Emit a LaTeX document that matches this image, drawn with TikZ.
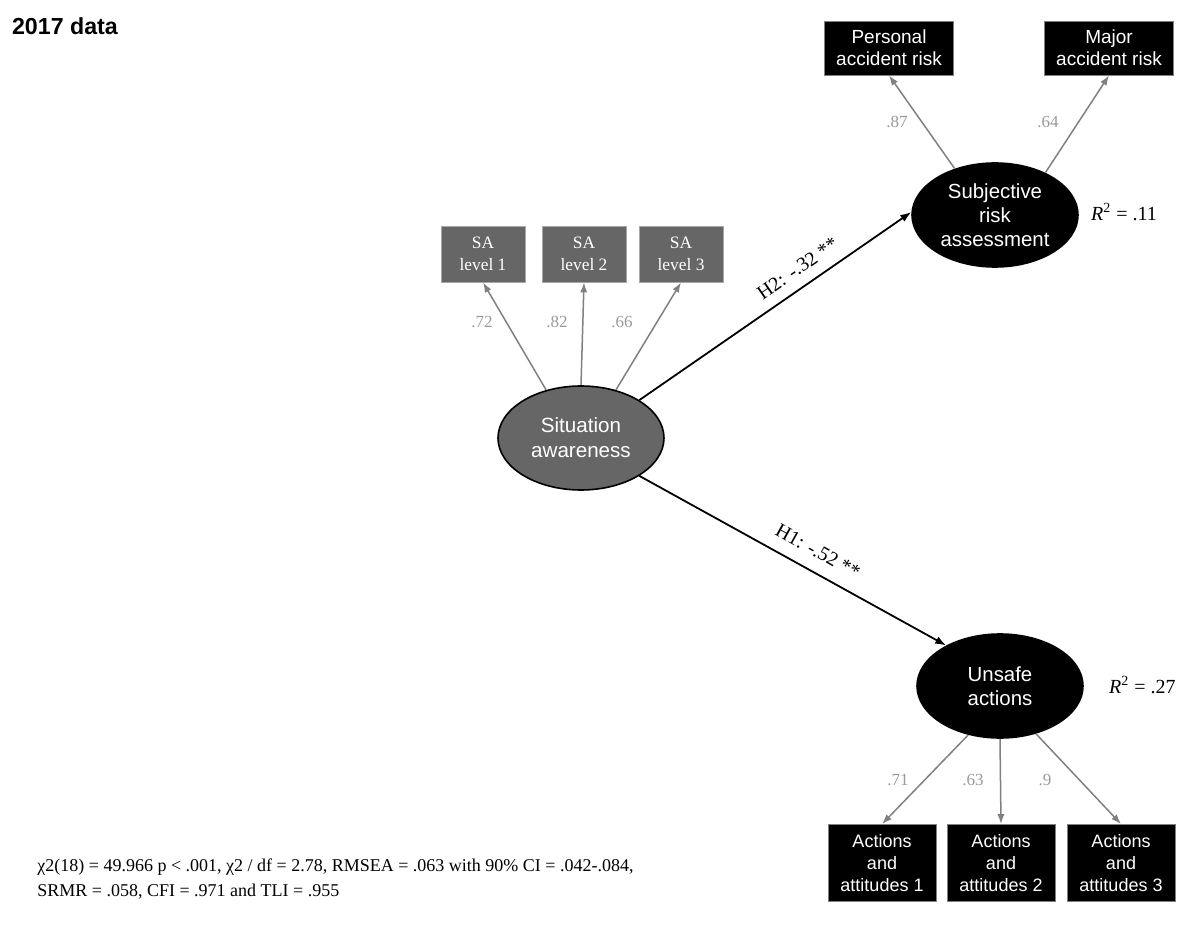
\documentclass[tikz,border=0pt]{standalone}
\usepackage{fontspec}
\setmainfont{Liberation Serif}
\setsansfont{Liberation Sans}
\usetikzlibrary{arrows.meta,shapes.geometric}
\definecolor{sagray}{HTML}{666666}
\definecolor{edgegray}{HTML}{A8A8A8}
\definecolor{arrowgray}{HTML}{808080}
\definecolor{numgray}{HTML}{9A9A9A}
\begin{document}
\begin{tikzpicture}[x=0.5pt,y=-0.5pt,
    sabox/.style={draw=edgegray,fill=sagray,text=white,minimum width=42pt,minimum height=28pt,inner sep=0pt,align=center,font=\fontsize{8.7}{10.8}\selectfont},
    blackbox/.style={draw=arrowgray,fill=black,text=white,inner sep=0pt,align=center,font=\sffamily\fontsize{9.5}{11}\selectfont},
    latent/.style={ellipse,draw=black,thick,minimum width=83pt,minimum height=52pt,inner sep=0pt,align=center,text=white,font=\sffamily\fontsize{10.2}{12}\selectfont},
    garrow/.style={draw=arrowgray,line width=0.75pt,-{Latex[length=5pt,width=3.6pt]}},
    barrow/.style={draw=black,line width=0.9pt,-{Latex[length=5.5pt,width=4pt]}},
    loading/.style={text=numgray,font=\fontsize{8.5}{10}\selectfont},
    rsq/.style={font=\fontsize{10}{12}\selectfont}]
    \useasboundingbox (0,0) rectangle (1200,925);
    \node[anchor=base west,font=\sffamily\bfseries\fontsize{11.6}{14}\selectfont] (title) at (5,35) {2017 data};
    % situation awareness and its indicators
    \node[latent,fill=sagray,font=\sffamily\fontsize{10.3}{12.5}\selectfont] (sit) at (581,438) {Situation\\awareness};
    \node[sabox] (sa1) at (483,254) {SA\\level 1};
    \node[sabox] (sa2) at (584,254) {SA\\level 2};
    \node[sabox] (sa3) at (681,254) {SA\\level 3};
    \draw[garrow] (sit.126) -- (sa1.south);
    \draw[garrow] (sit.90) -- (sa2.south);
    \draw[garrow] (sit.54) -- (sa3.south);
    \node[loading] (l1) at (482,322) {.72};
    \node[loading] (l2) at (557,322) {.82};
    \node[loading] (l3) at (622,322) {.66};
    % subjective risk assessment
    \node[latent,fill=black] (sra) at (995,215) {Subjective\\risk\\assessment};
    \node[blackbox,minimum width=64.5pt,minimum height=27pt] (par) at (889,48) {Personal\\accident risk};
    \node[blackbox,minimum width=64.5pt,minimum height=27pt] (mar) at (1109,48) {Major\\accident risk};
    \draw[garrow] (sra.131) -- (par.south);
    \draw[garrow] (sra.40) -- (mar.south);
    \node[loading] (l4) at (897,122) {.87};
    \node[loading] (l5) at (1048,122) {.64};
    \node[rsq,anchor=west] (r1) at (1084,212) {\textit{R}\textsuperscript{2} = .11};
    % unsafe actions
    \node[latent,fill=black] (ua) at (1000,686) {Unsafe\\actions};
    \node[blackbox,minimum width=54pt,minimum height=38.5pt,font=\sffamily\fontsize{9}{10.8}\selectfont] (aa1) at (882,863) {Actions\\and\\attitudes 1};
    \node[blackbox,minimum width=54pt,minimum height=38.5pt,font=\sffamily\fontsize{9}{10.8}\selectfont] (aa2) at (1001,863) {Actions\\and\\attitudes 2};
    \node[blackbox,minimum width=54pt,minimum height=38.5pt,font=\sffamily\fontsize{9}{10.8}\selectfont] (aa3) at (1121,863) {Actions\\and\\attitudes 3};
    \draw[garrow] (ua.237) -- (aa1.north);
    \draw[garrow] (ua.-90) -- (aa2.north);
    \draw[garrow] (ua.-53) -- (aa3.north);
    \node[loading] (l6) at (898,780) {.71};
    \node[loading] (l7) at (973,780) {.63};
    \node[loading] (l8) at (1045,780) {.9};
    \node[rsq,anchor=west] (r2) at (1102,685) {\textit{R}\textsuperscript{2} = .27};
    % structural paths
    \draw[barrow] (sit.33) -- node[sloped,above=2pt,pos=0.62,font=\fontsize{10}{12}\selectfont] (h2) {H2: -.32 **} (sra.178);
    \draw[barrow] (sit.-33) -- node[sloped,above=3pt,pos=0.55,font=\fontsize{10}{12}\selectfont] (h1) {H1: -.52 **} (ua.143);
    % fit indices
    \node[anchor=north west,align=left,inner sep=0pt,font=\fontsize{9}{12.5}\selectfont] (fit) at (37,858) {χ2(18) = 49.966 p < .001, χ2 / df = 2.78, RMSEA = .063 with 90\% CI = .042-.084,\\SRMR = .058, CFI = .971 and TLI = .955};
\end{tikzpicture}
\end{document}
